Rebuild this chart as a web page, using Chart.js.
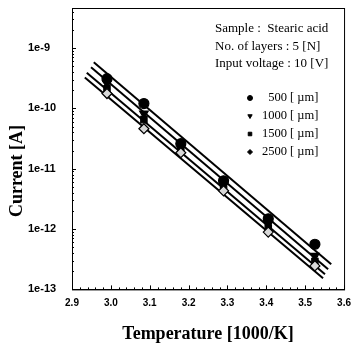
<!DOCTYPE html>
<html>
<head>
<meta charset="utf-8">
<script src="https://cdn.jsdelivr.net/npm/chart.js@4.4.1/dist/chart.umd.min.js"></script>
<style>
  body { margin: 0; background: #fff; }
  #wrap { width: 359px; height: 351px; }
</style>
</head>
<body>
<div id="wrap"><canvas id="chart"></canvas></div>
<script>
// Temperature (1000/K) where measurements were taken
const temps = [2.99, 3.085, 3.18, 3.29, 3.405, 3.525];

// Current [A] per electrode gap
const cur500  = [3.1e-10, 1.2e-10, 2.6e-11, 6.3e-12, 1.48e-12, 5.6e-13];
const cur1000 = [2.6e-10, 8.2e-11, 2.3e-11, 5.4e-12, 1.21e-12, 3.6e-13];
const cur1500 = [2.1e-10, 6.5e-11, 2.06e-11, 4.8e-12, 1.04e-12, 2.9e-13];
const cur2500 = [1.76e-10, 4.6e-11, 1.84e-11, 4.3e-12, 8.9e-13, 2.45e-13];

// Fitted lines, end points
const fit500  = [{ x: 2.956, y: 5.8e-10 }, { x: 3.567, y: 2.6e-13 }];
const fit1000 = [{ x: 2.949, y: 4.8e-10 }, { x: 3.559, y: 2.16e-13 }];
const fit1500 = [{ x: 2.938, y: 3.9e-10 }, { x: 3.551, y: 1.79e-13 }];
const fit2500 = [{ x: 2.933, y: 3.25e-10 }, { x: 3.546, y: 1.53e-13 }];

const gapLabels = ['500', '1000', '1500', '2500'];
const infoLines = ['Sample :  Stearic acid', 'No. of layers : 5 [N]', 'Input voltage : 10 [V]'];

const xTicks = [2.9, 3.0, 3.1, 3.2, 3.3, 3.4, 3.5, 3.6];

// Marker styles per series
const markers = [
    { pointStyle: 'circle',   radius: 5,   rotation: 0,   bg: '#000', border: '#000' },
    { pointStyle: 'triangle', radius: 5,   rotation: 180, bg: '#000', border: '#000' },
    { pointStyle: 'rect',     radius: 4.5, rotation: 0,   bg: '#000', border: '#000' },
    { pointStyle: 'rectRot',  radius: 5,   rotation: 0,   bg: '#d8d8d8', border: '#000' }
];

function toPoints(values) {
    return temps.map((t, i) => ({ x: t, y: values[i] }));
}

function isPow10(v) {
    const e = Math.log10(v);
    return Math.abs(e - Math.round(e)) < 1e-6;
}

const pointSets = [cur500, cur1000, cur1500, cur2500];
const fitSets = [fit500, fit1000, fit1500, fit2500];

const datasets = [];
fitSets.forEach(function(fit) {
    datasets.push({
        type: 'line',
        data: fit,
        borderColor: '#000',
        borderWidth: 2,
        pointRadius: 0,
        showLine: true,
        fill: false,
        order: 10
    });
});
pointSets.forEach(function(vals, i) {
    const m = markers[i];
    datasets.push({
        type: 'scatter',
        label: gapLabels[i],
        data: toPoints(vals),
        pointStyle: m.pointStyle,
        pointRadius: m.radius,
        pointRotation: m.rotation,
        backgroundColor: m.bg,
        borderColor: m.border,
        borderWidth: 1.2,
        order: 4 - i
    });
});

// Box around the plot, inward ticks, y title, info text and legend
const framePlugin = {
    id: 'frame',
    afterDraw(chart) {
        const ctx = chart.ctx;
        const a = chart.chartArea;
        const xs = chart.scales.x;
        const ys = chart.scales.y;
        ctx.save();
        ctx.strokeStyle = '#000';
        ctx.lineWidth = 1;
        ctx.strokeRect(a.left + 0.5, a.top + 0.5, a.right - a.left, a.bottom - a.top);

        // x ticks (major 0.1, minor 0.02)
        ctx.beginPath();
        for (let k = 0; k <= 35; k++) {
            const v = 2.9 + k * 0.02;
            const px = Math.round(xs.getPixelForValue(v)) + 0.5;
            const len = (k % 5 === 0) ? 4 : 2;
            ctx.moveTo(px, a.bottom);
            ctx.lineTo(px, a.bottom - len);
        }
        // y ticks (decades and minor)
        for (let e = -13; e <= -9; e++) {
            for (let m = 1; m <= 9; m++) {
                const v = m * Math.pow(10, e);
                if (v > ys.max) break;
                const py = Math.round(ys.getPixelForValue(v)) + 0.5;
                const len = (m === 1) ? 4 : 2;
                ctx.moveTo(a.left, py);
                ctx.lineTo(a.left + len, py);
            }
        }
        ctx.stroke();

        // y axis title
        ctx.fillStyle = '#000';
        ctx.save();
        ctx.translate(17, 171);
        ctx.rotate(-Math.PI / 2);
        ctx.font = 'bold 18px "Liberation Serif"';
        ctx.textAlign = 'center';
        ctx.textBaseline = 'middle';
        ctx.fillText('Current [A]', 0, 0);
        ctx.restore();

        // info text
        ctx.font = '13px "Liberation Serif"';
        ctx.textAlign = 'left';
        ctx.textBaseline = 'middle';
        infoLines.forEach(function(line, i) {
            ctx.fillText(line, 215, 29 + i * 17.5);
        });

        // legend
        gapLabels.forEach(function(lab, i) {
            const m = markers[i];
            const y = 98 + i * 18;
            Chart.helpers.drawPoint(ctx, {
                pointStyle: m.pointStyle,
                radius: 2.5,
                rotation: m.rotation,
                borderWidth: 1
            }, 250, y);
            ctx.fillStyle = '#000';
            ctx.strokeStyle = '#000';
            ctx.beginPath();
            ctx.font = '12.5px "Liberation Serif"';
            ctx.textAlign = 'right';
            ctx.fillText(lab, 287, y);
            ctx.textAlign = 'left';
            ctx.fillText('[ \u00b5m]', 290, y);
        });
        ctx.restore();
    }
};

const ctx = document.getElementById('chart').getContext('2d');
new Chart(ctx, {
    data: { datasets: datasets },
    options: {
        responsive: true,
        maintainAspectRatio: false,
        animation: false,
        layout: { padding: { top: 8, right: 11, left: 28, bottom: 6 } },
        plugins: {
            legend: { display: false },
            tooltip: { enabled: false }
        },
        scales: {
            x: {
                type: 'linear',
                min: 2.9,
                max: 3.6,
                afterBuildTicks: function(scale) {
                    scale.ticks = xTicks.map(v => ({ value: v }));
                },
                ticks: {
                    color: '#000',
                    font: { family: '"Liberation Sans"', size: 10, weight: 'bold' },
                    padding: 8,
                    maxRotation: 0,
                    callback: v => v.toFixed(1)
                },
                grid: { drawOnChartArea: false, drawTicks: false },
                border: { color: '#000' },
                title: {
                    display: true,
                    text: 'Temperature [1000/K]',
                    color: '#000',
                    font: { family: '"Liberation Serif"', size: 18, weight: 'bold' },
                    padding: { top: 6, bottom: 0 }
                }
            },
            y: {
                type: 'logarithmic',
                min: 1e-13,
                max: 4.6e-9,
                afterFit: function(scale) {
                    scale.width = 44;
                    scale.paddingTop = 0;
                    scale.paddingBottom = 0;
                },
                ticks: {
                    color: '#000',
                    autoSkip: false,
                    crossAlign: 'far',
                    font: { family: '"Liberation Sans"', size: 11, weight: 'bold' },
                    padding: 8,
                    callback: function(v) {
                        return isPow10(v) ? '1e' + Math.round(Math.log10(v)) : '';
                    }
                },
                grid: { drawOnChartArea: false, drawTicks: false },
                border: { color: '#000' }
            }
        }
    },
    plugins: [framePlugin]
});
</script>
</body>
</html>
